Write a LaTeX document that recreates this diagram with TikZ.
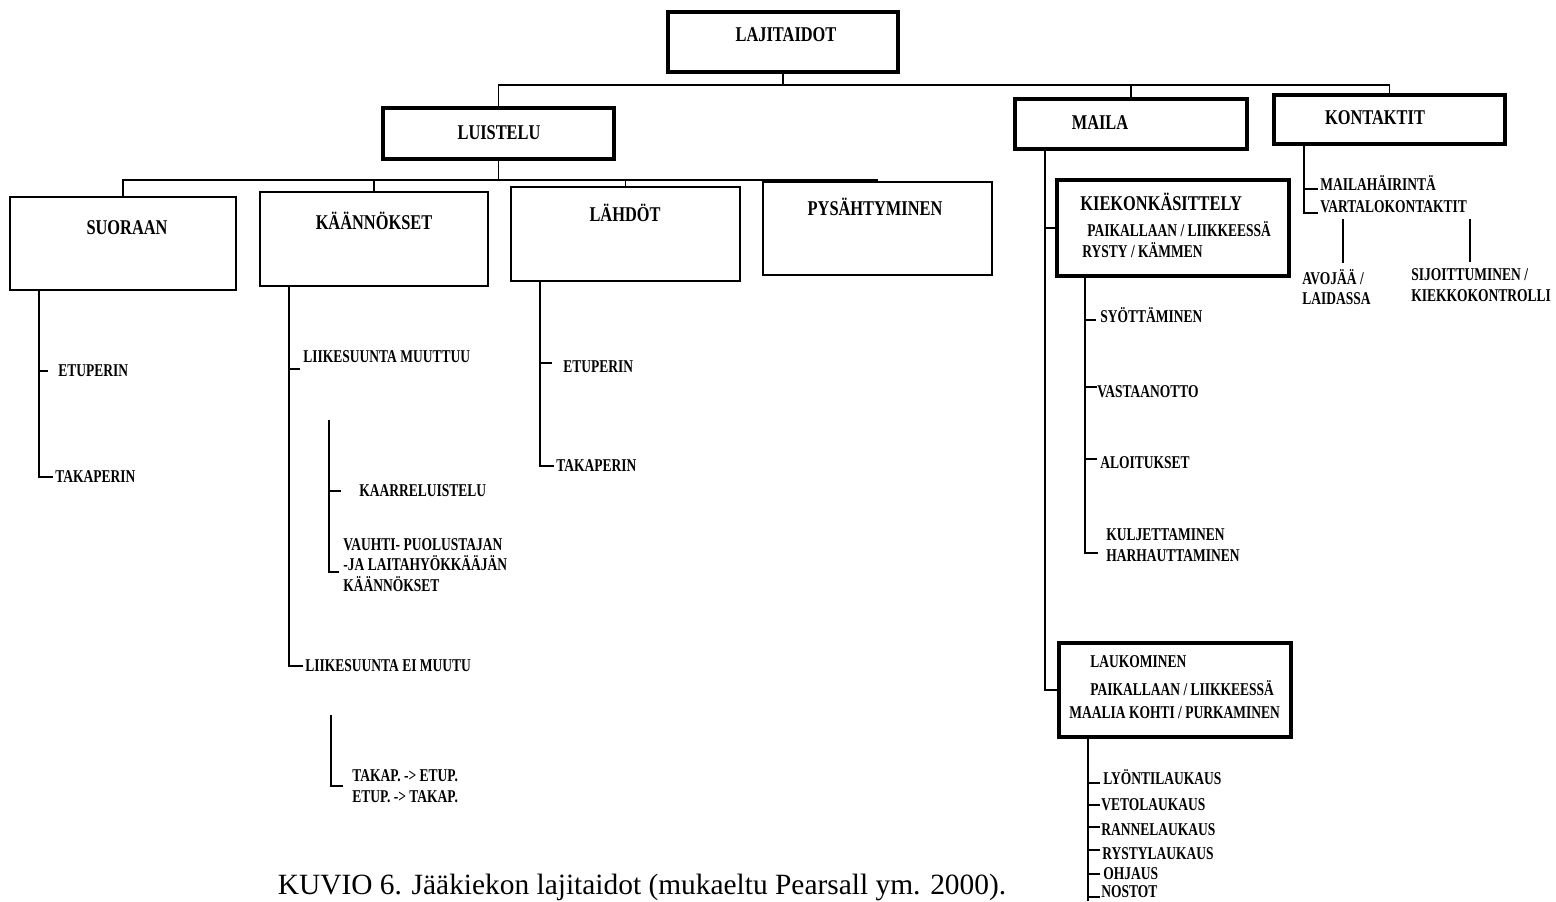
\documentclass[tikz,border=0pt]{standalone}
\usepackage{fontspec}
\setmainfont{Liberation Serif}
\newfontfamily\narrowserif{Liberation Serif}[FakeStretch=0.78]
\newfontfamily\narrowerserif{Liberation Serif}[FakeStretch=0.75]
\usepackage{tikz}
\usetikzlibrary{positioning,calc}
\newcommand\pxu{0.5pt}
\tikzset{
  box-main/.style={draw,line width=1.6pt,minimum width=231*\pxu,inner sep=0},
  box-sub/.style={draw,line width=1pt,minimum width=228*\pxu,minimum height=94*\pxu,inner sep=0},
  lbl-head/.style={font=\narrowserif\bfseries\fontsize{10.5}{12}\selectfont,inner sep=0},
  lbl-item/.style={font=\narrowerserif\bfseries\fontsize{9}{10.3}\selectfont,inner sep=0,anchor=west,align=left},
  lbl-caption/.style={font=\fontsize{14.7}{17}\selectfont,inner sep=0},
  tree/.style={line width=0.7pt},
}

\begin{document}
\begin{tikzpicture}[x=\pxu,y=-\pxu]
  \useasboundingbox (0,0) rectangle (1556,901);

  % top levels
  \node[box-main,minimum width=230*\pxu,minimum height=60*\pxu] (lajit) at (783,42) {};
  \node[lbl-head] (lajit-t) at (786,35) {LAJITAIDOT};
  \node[box-main,minimum height=51*\pxu] (luistelu) at (498.5,133.5) {};
  \node[lbl-head] (luistelu-t) at (499,133) {LUISTELU};
  \node[box-main,minimum width=232*\pxu,minimum height=50*\pxu] (maila) at (1131,124) {};
  \node[lbl-head] (maila-t) at (1100,123) {MAILA};
  \node[box-main,minimum height=49*\pxu] (kontaktit) at (1389.5,119.5) {};
  \node[lbl-head] (kontaktit-t) at (1375,118) {KONTAKTIT};

  \coordinate (bus-top) at (784,85);
  \draw[tree] (lajit) -- (lajit |- bus-top);
  \draw[tree] (luistelu) |- (bus-top) -| (kontaktit);
  \draw[tree] (maila) -- (maila |- bus-top);

  % luistelu
  \node[box-sub,minimum width=226*\pxu,minimum height=93*\pxu] (suoraan) at (123,243.5) {};
  \node[lbl-head] (suoraan-t) at (127,228) {SUORAAN};
  \node[box-sub] (kaan) at (374,238.5) {};
  \node[lbl-head] (kaan-t) at (374,221) {KÄÄNNÖKSET};
  \node[box-sub,minimum width=229*\pxu] (lahdot) at (625.5,233.5) {};
  \node[lbl-head] (lahdot-t) at (625,213) {LÄHDÖT};
  \node[box-sub,minimum width=229*\pxu,minimum height=93*\pxu] (pysah) at (877.5,228.5) {};
  \node[lbl-head] (pysah-t) at (875,207) {PYSÄHTYMINEN};

  \coordinate (bus-lu) at (499,180);
  \draw[tree] (luistelu) -- (luistelu |- bus-lu);
  \draw[tree] (suoraan) |- (bus-lu) -| (pysah);
  \draw[tree] (kaan) -- (kaan |- bus-lu);
  \draw[tree] (lahdot) -- (lahdot |- bus-lu);

  % suoraan
  \coordinate (sp-suo) at (39,0);
  \node[lbl-item] (etu-1) at (58,371) {ETUPERIN};
  \node[lbl-item] (taka-1) at (55,477) {TAKAPERIN};
  \draw[tree] (sp-suo |- suoraan.south) |- ([xshift=-1pt]taka-1.west);
  \draw[tree] (sp-suo |- etu-1) -- ++(9,0);

  % kaannokset
  \coordinate (sp-kaan) at (289,0);
  \node[lbl-item] (muuttuu) at (303,357) {LIIKESUUNTA MUUTTUU};
  \node[lbl-item] (ei-muutu) at (305,666) {LIIKESUUNTA EI MUUTU};
  \draw[tree] (sp-kaan |- kaan.south) |- ([xshift=-1pt]ei-muutu.west);
  \draw[tree] ($(sp-kaan |- muuttuu)+(0,12)$) -- ++(11,0);

  \coordinate (sp-kaarre) at (329,420);
  \node[lbl-item] (kaarre) at (359,491) {KAARRELUISTELU};
  \node[lbl-item] (vauhti) at (343,565) {VAUHTI- PUOLUSTAJAN\\-JA LAITAHYÖKKÄÄJÄN\\KÄÄNNÖKSET};
  \draw[tree] (sp-kaarre) |- ($(vauhti.west)+(-4,7)$);
  \draw[tree] (sp-kaarre |- kaarre) -- ++(12,0);

  \coordinate (sp-takap) at (331,715);
  \node[lbl-item] (takap) at (352,786) {TAKAP. -> ETUP.\\ETUP. -> TAKAP.};
  \draw[tree] (sp-takap) |- ($(takap.west)+(-9,0)$);

  % lahdot
  \coordinate (sp-lah) at (540,0);
  \node[lbl-item] (etu-2) at (563,367) {ETUPERIN};
  \node[lbl-item] (taka-2) at (556,466) {TAKAPERIN};
  \draw[tree] (sp-lah |- lahdot.south) |- ([xshift=-1pt]taka-2.west);
  \draw[tree] ($(sp-lah |- etu-2)+(0,-4)$) -- ++(12,0);

  % maila
  \node[box-main,minimum width=232*\pxu,minimum height=96*\pxu] (kiek) at (1173,228) {};
  \node[lbl-head,anchor=west] (kiek-t) at (1080,202) {KIEKONKÄSITTELY};
  \node[lbl-item] (kiek-a) at (1087,229) {PAIKALLAAN / LIIKKEESSÄ};
  \node[lbl-item] (kiek-b) at (1082,250) {RYSTY / KÄMMEN};
  \node[box-main,minimum width=232*\pxu,minimum height=94*\pxu] (lauk) at (1175,690) {};
  \node[lbl-item] (lauk-t) at (1090,662) {LAUKOMINEN};
  \node[lbl-item] (lauk-a) at (1090,688) {PAIKALLAAN / LIIKKEESSÄ};
  \node[lbl-item] (lauk-b) at (1069,713) {MAALIA KOHTI / PURKAMINEN};

  \coordinate (sp-maila) at (1045,0);
  \draw[tree] (sp-maila |- maila.south) |- (lauk);
  \draw[tree] (sp-maila |- kiek) -- (kiek);

  \coordinate (sp-kiek) at (1085,0);
  \node[lbl-item] (syot) at (1100,315) {SYÖTTÄMINEN};
  \node[lbl-item] (vasta) at (1097,392) {VASTAANOTTO};
  \node[lbl-item] (aloit) at (1100,463) {ALOITUKSET};
  \node[lbl-item] (kulj) at (1106,545) {KULJETTAMINEN\\HARHAUTTAMINEN};
  \draw[tree] (sp-kiek |- kiek.south) |- ($(kulj.west)+(-8,8)$);
  \draw[tree] ($(sp-kiek |- syot)+(0,5)$) -- ++(11,0);
  \draw[tree] ($(sp-kiek |- vasta)+(0,-5)$) -- ++(12,0);
  \draw[tree] ($(sp-kiek |- aloit)+(0,-4)$) -- ++(12,0);

  \coordinate (sp-lauk) at (1088,0);
  \coordinate (lauk-end) at (1088,901);
  \node[lbl-item] (lyonti) at (1103,777) {LYÖNTILAUKAUS};
  \node[lbl-item] (veto) at (1101,805) {VETOLAUKAUS};
  \node[lbl-item] (ranne) at (1101,830) {RANNELAUKAUS};
  \node[lbl-item] (rysty) at (1102,854) {RYSTYLAUKAUS};
  \node[lbl-item] (ohjaus) at (1103,874) {OHJAUS};
  \node[lbl-item] (nostot) at (1101,892) {NOSTOT};
  \draw[tree] (sp-lauk |- lauk.south) -- (lauk-end);
  \draw[tree] ($(sp-lauk |- lyonti)+(0,6)$) -- ++(12,0);
  \draw[tree] (sp-lauk |- veto) -- ++(12,0);
  \draw[tree] ($(sp-lauk |- ranne)+(0,-3)$) -- ++(12,0);
  \draw[tree] ($(sp-lauk |- rysty)+(0,-4)$) -- ++(12,0);
  \draw[tree] (sp-lauk |- ohjaus) -- ++(12,0);
  \draw[tree] ($(sp-lauk |- nostot)+(0,5)$) -- ++(12,0);

  % kontaktit
  \coordinate (sp-kont) at (1304,0);
  \node[lbl-item] (hairinta) at (1320,183) {MAILAHÄIRINTÄ};
  \node[lbl-item] (vartalo) at (1320,207) {VARTALOKONTAKTIT};
  \draw[tree] (sp-kont |- kontaktit.south) |- ($(vartalo.west)+(-2,6)$);
  \draw[tree] ($(sp-kont |- hairinta)+(0,6)$) -- ++(14,0);

  \coordinate (sp-avo) at (1343,219);
  \coordinate (sp-sij) at (1470,219);
  \node[lbl-item] (avo) at (1302,287) {AVOJÄÄ /\\LAIDASSA};
  \node[lbl-item] (sijoit) at (1411,285) {SIJOITTUMINEN /\\KIEKKOKONTROLLI};
  \draw[tree] (sp-avo) -- ($(sp-avo |- avo.north)+(0,-6)$);
  \draw[tree] (sp-sij) -- ($(sp-sij |- sijoit.north)+(0,-6)$);

  \node[lbl-caption] (caption) at (642,887) {KUVIO 6. Jääkiekon lajitaidot (mukaeltu Pearsall ym. 2000).};
\end{tikzpicture}
\end{document}
